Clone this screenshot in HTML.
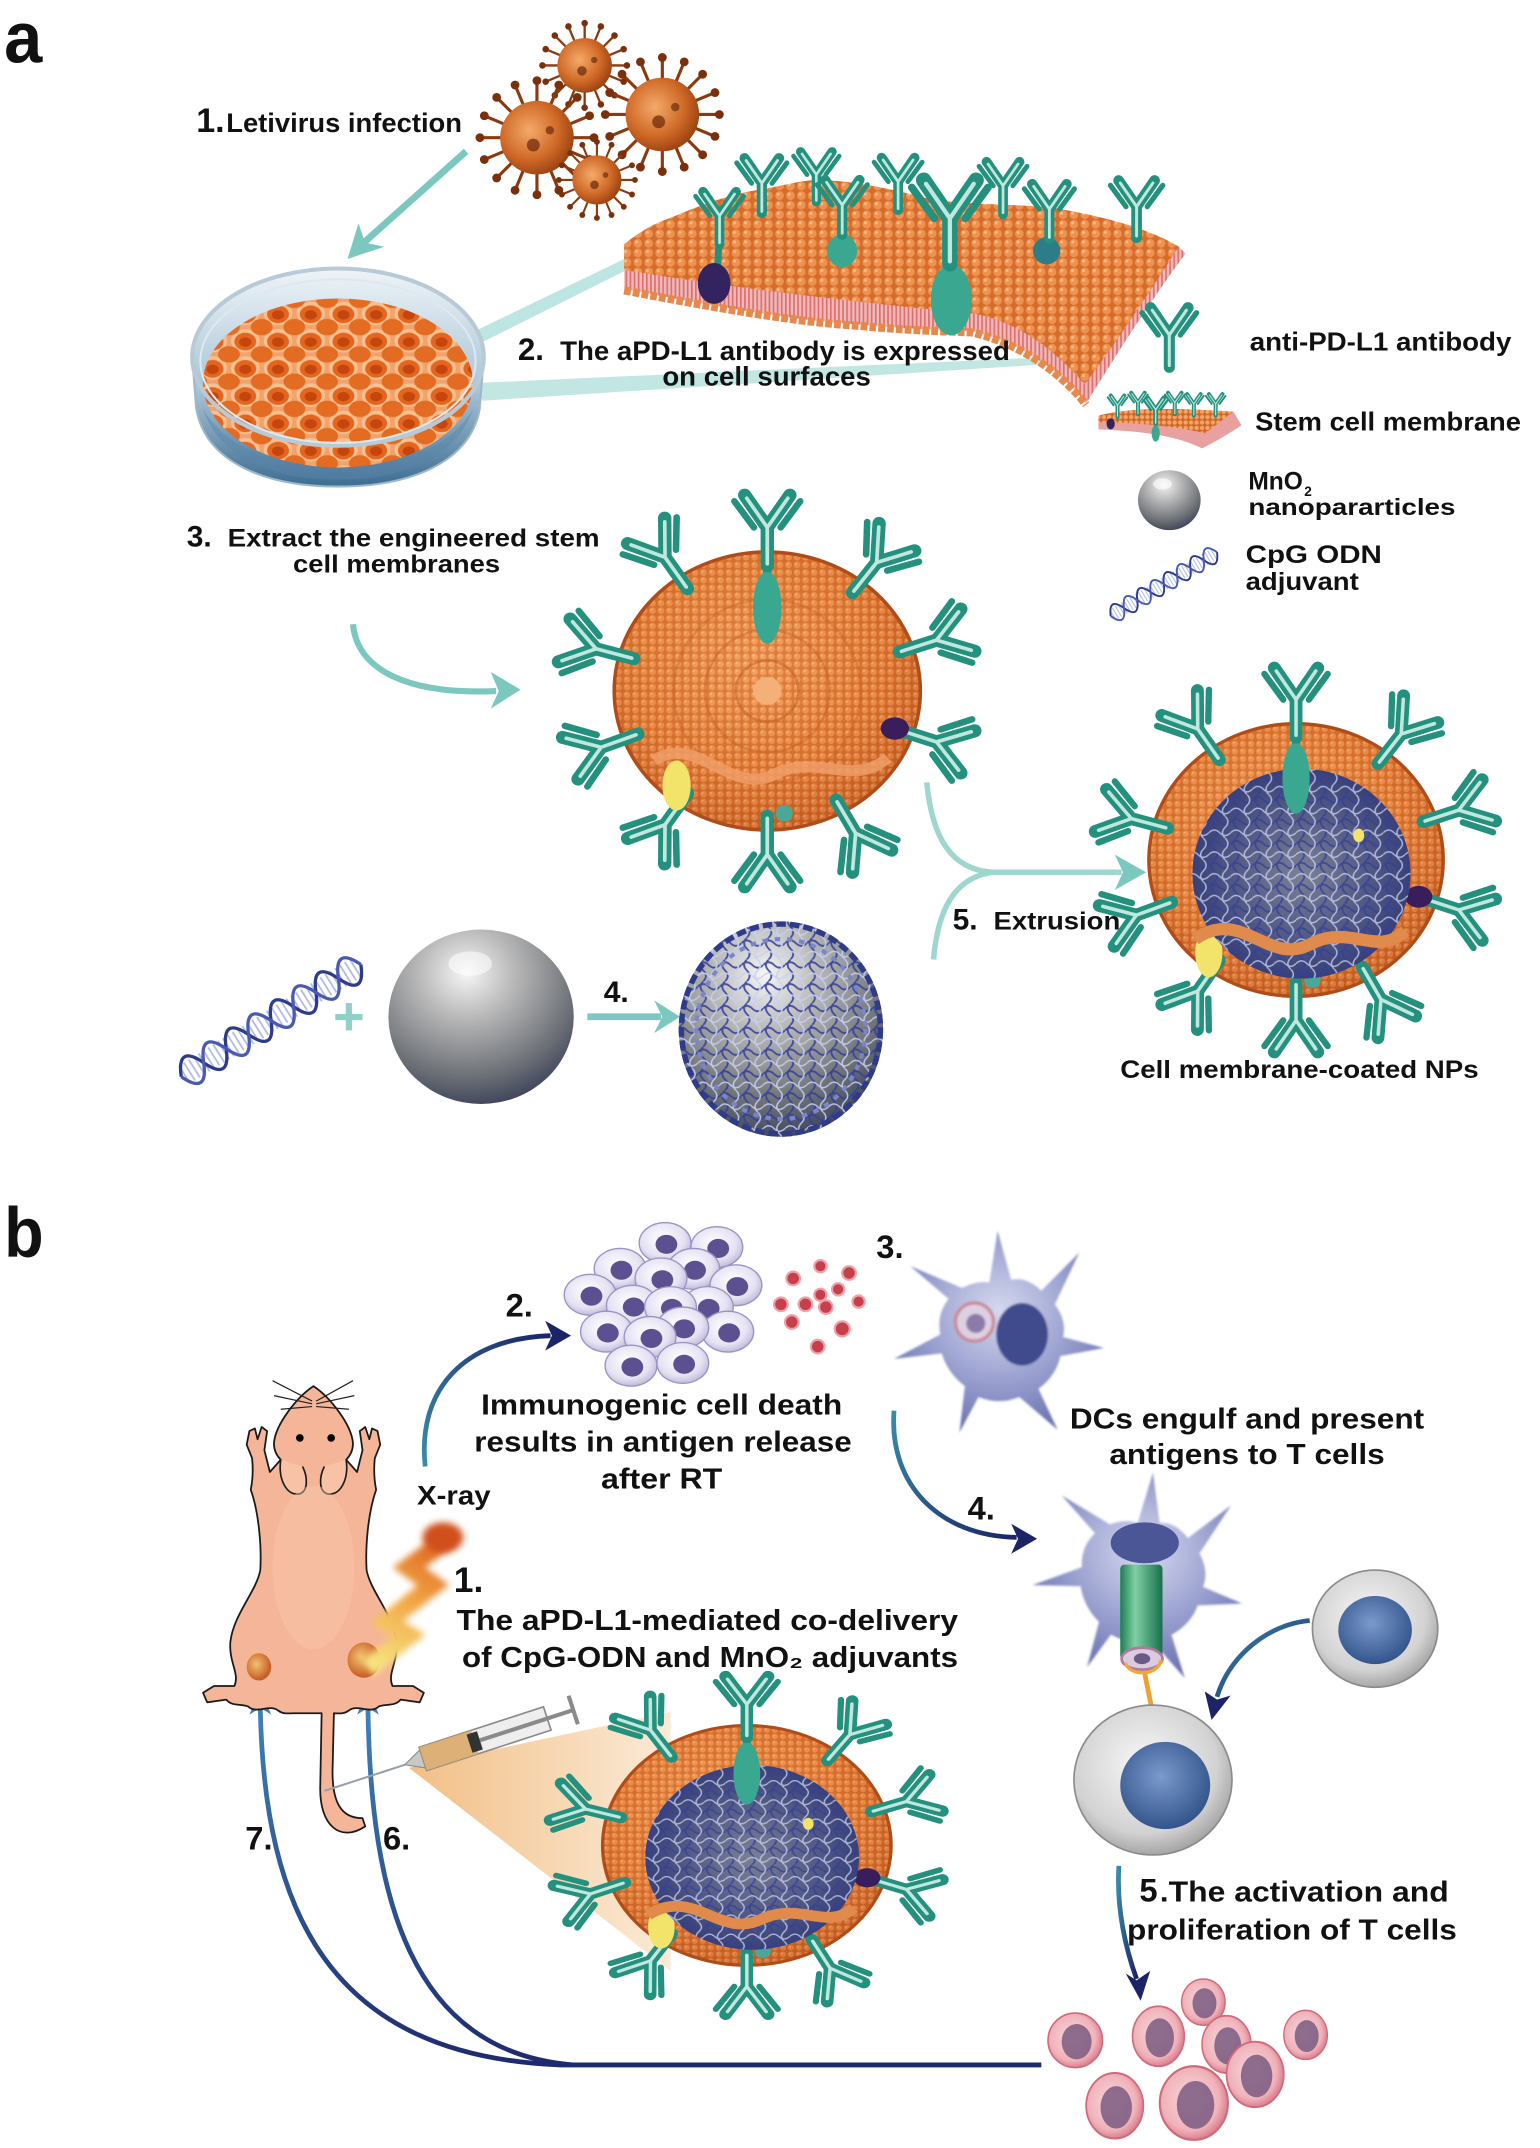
<!DOCTYPE html>
<html><head><meta charset="utf-8"><style>
html,body{margin:0;padding:0;background:#fff;}
svg{display:block;}
text{font-family:"Liberation Sans",Arial,sans-serif;font-weight:bold;fill:#111;}
</style></head><body>
<svg xmlns="http://www.w3.org/2000/svg" xmlns:xlink="http://www.w3.org/1999/xlink" width="1540" height="2148" viewBox="0 0 1130 1576" preserveAspectRatio="none">
<defs>
<radialGradient id="orG" cx=".45" cy=".4" r=".62"><stop offset="0" stop-color="#f4a866"/><stop offset=".65" stop-color="#e07c36"/><stop offset="1" stop-color="#b9531a"/></radialGradient>
<pattern id="beads" width="6" height="5.5" patternUnits="userSpaceOnUse"><rect width="6" height="5.5" fill="#c95f20"/><circle cx="3" cy="2.75" r="2.4" fill="#f39a5c"/><circle cx="2.3" cy="2" r=".8" fill="#fcd6ae"/></pattern>
<pattern id="beadsL" width="8" height="7" patternUnits="userSpaceOnUse"><rect width="8" height="7" fill="#cd6424"/><circle cx="4" cy="3.5" r="3.2" fill="#f29a5a"/><circle cx="3" cy="2.5" r="1.1" fill="#fcd6ae"/></pattern>
<pattern id="beadsS" width="4" height="4" patternUnits="userSpaceOnUse"><rect width="4" height="4" fill="#cf6828"/><circle cx="2" cy="2" r="1.6" fill="#f6a468"/></pattern>
<pattern id="tails" width="3" height="10" patternUnits="userSpaceOnUse"><rect width="3" height="10" fill="#f2b8b8"/><rect width="1.2" height="10" fill="#d87070"/></pattern>
<radialGradient id="grayG" cx=".42" cy=".25" r=".85"><stop offset="0" stop-color="#f6f6f6"/><stop offset=".3" stop-color="#b9b9b9"/><stop offset=".7" stop-color="#6c7076"/><stop offset="1" stop-color="#2a3150"/></radialGradient>
<radialGradient id="coreG" cx=".5" cy=".5" r=".6"><stop offset="0" stop-color="#7c8094"/><stop offset=".6" stop-color="#4c5380"/><stop offset="1" stop-color="#2b3370"/></radialGradient>
<pattern id="dnaPat" width="16" height="16" patternUnits="userSpaceOnUse"><path d="M0,4Q4,0 8,4T16,4M4,0Q0,4 4,8T4,16" fill="none" stroke="#34409a" stroke-width="1.3"/><path d="M0,12Q4,8 8,12T16,12M12,0Q16,4 12,8T12,16" fill="none" stroke="#c8d0f0" stroke-width="1.1"/></pattern>
<radialGradient id="virG" cx=".4" cy=".4" r=".65"><stop offset="0" stop-color="#f4aa6a"/><stop offset=".6" stop-color="#d06a28"/><stop offset="1" stop-color="#98400f"/></radialGradient>
<linearGradient id="dishG" x1="0" y1="0" x2="0" y2="1"><stop offset="0" stop-color="#eef4f8"/><stop offset=".55" stop-color="#a9c4d6"/><stop offset="1" stop-color="#3d6d92"/></linearGradient>
<pattern id="cellPat" width="24" height="20" patternUnits="userSpaceOnUse"><rect width="24" height="20" fill="#f2a26a"/><ellipse cx="12" cy="10" rx="10.5" ry="8.6" fill="#f8c090"/><ellipse cx="12" cy="10.6" rx="8" ry="6.5" fill="#e4661e"/><ellipse cx="12" cy="11" rx="4.5" ry="3.5" fill="#c4450e"/><ellipse cx="0" cy="0" rx="8" ry="6" fill="#e46c22"/><ellipse cx="24" cy="0" rx="8" ry="6" fill="#e46c22"/><ellipse cx="0" cy="20" rx="8" ry="6" fill="#e46c22"/><ellipse cx="24" cy="20" rx="8" ry="6" fill="#e46c22"/></pattern>
<radialGradient id="dcG" cx=".5" cy=".4" r=".6"><stop offset="0" stop-color="#d6d9ef"/><stop offset=".5" stop-color="#a2a8d4"/><stop offset="1" stop-color="#6c74b4"/></radialGradient>
<radialGradient id="tcG" cx=".45" cy=".4" r=".6"><stop offset="0" stop-color="#ffffff"/><stop offset=".7" stop-color="#e6e2f2"/><stop offset="1" stop-color="#c2bcdc"/></radialGradient>
<radialGradient id="pcG" cx=".45" cy=".45" r=".6"><stop offset="0" stop-color="#f8dadd"/><stop offset=".7" stop-color="#f0b2ba"/><stop offset="1" stop-color="#d46e80"/></radialGradient>
<radialGradient id="tG" cx=".45" cy=".4" r=".65"><stop offset="0" stop-color="#f8f8f8"/><stop offset=".7" stop-color="#d2d2d2"/><stop offset="1" stop-color="#979797"/></radialGradient>
<radialGradient id="nG" cx=".45" cy=".4" r=".6"><stop offset="0" stop-color="#7a9acc"/><stop offset="1" stop-color="#34558c"/></radialGradient>
<radialGradient id="tumG" cx=".4" cy=".4" r=".6"><stop offset="0" stop-color="#f2c070"/><stop offset="1" stop-color="#c65a22"/></radialGradient>
<linearGradient id="cylG" x1="0" y1="0" x2="1" y2="0"><stop offset="0" stop-color="#1d7e52"/><stop offset=".35" stop-color="#7fd0a4"/><stop offset="1" stop-color="#17704a"/></linearGradient>
<linearGradient id="beamG" x1="0" y1="0" x2="1" y2="0"><stop offset="0" stop-color="#f0b878"/><stop offset="1" stop-color="#fbe8d2"/></linearGradient>
<linearGradient id="boltG" gradientUnits="userSpaceOnUse" x1="330" y1="1124" x2="270" y2="1226"><stop offset="0" stop-color="#d8561a"/><stop offset=".45" stop-color="#f0a040"/><stop offset="1" stop-color="#f8ec86"/></linearGradient>
<linearGradient id="gUp" x1="0" y1="1" x2="1" y2="0"><stop offset="0" stop-color="#3a8cae"/><stop offset="1" stop-color="#1b2466"/></linearGradient>
<linearGradient id="gDn" x1="0" y1="0" x2="1" y2="1"><stop offset="0" stop-color="#3a8cae"/><stop offset="1" stop-color="#1b2466"/></linearGradient>
<linearGradient id="gBot" x1="0" y1="0" x2="0" y2="1"><stop offset="0" stop-color="#3f82b8"/><stop offset="1" stop-color="#1e2a6e"/></linearGradient>
<filter id="bl2" x="-50%" y="-50%" width="200%" height="200%"><feGaussianBlur stdDeviation="2.5"/></filter>
<filter id="bl1"><feGaussianBlur stdDeviation=".7"/></filter>

<g id="ab">
<path d="M0,2V-17M0,-17L-11,-33M0,-17L11,-33" fill="none" stroke="#24907e" stroke-width="6.5" stroke-linecap="round" stroke-linejoin="round"/>
<path d="M0,1V-17L-10,-31.5M0,-17L10,-31.5" fill="none" stroke="#bfe7de" stroke-width="1.8" stroke-linecap="round"/>
<path d="M-6.5,-17L-16,-30M6.5,-17L16,-30" fill="none" stroke="#24907e" stroke-width="3.2" stroke-linecap="round"/>
</g>

<g id="vir">
<path d="M0,0L31,0M0,0L28.6,11.9M0,0L21.9,21.9M0,0L11.9,28.6M0,0L0,31M0,0L-11.9,28.6M0,0L-21.9,21.9M0,0L-28.6,11.9M0,0L-31,0M0,0L-28.6,-11.9M0,0L-21.9,-21.9M0,0L-11.9,-28.6M0,0L0,-31M0,0L11.9,-28.6M0,0L21.9,-21.9M0,0L28.6,-11.9" stroke="#8a3a10" stroke-width="1.7"/>
<g fill="#7a300c"><circle cx="31" cy="0" r="2.4"/><circle cx="28.6" cy="11.9" r="2.4"/><circle cx="21.9" cy="21.9" r="2.4"/><circle cx="11.9" cy="28.6" r="2.4"/><circle cx="0" cy="31" r="2.4"/><circle cx="-11.9" cy="28.6" r="2.4"/><circle cx="-21.9" cy="21.9" r="2.4"/><circle cx="-28.6" cy="11.9" r="2.4"/><circle cx="-31" cy="0" r="2.4"/><circle cx="-28.6" cy="-11.9" r="2.4"/><circle cx="-21.9" cy="-21.9" r="2.4"/><circle cx="-11.9" cy="-28.6" r="2.4"/><circle cx="0" cy="-31" r="2.4"/><circle cx="11.9" cy="-28.6" r="2.4"/><circle cx="21.9" cy="-21.9" r="2.4"/><circle cx="28.6" cy="-11.9" r="2.4"/></g>
<circle r="20" fill="url(#virG)"/>
<circle cx="-2" cy="4" r="3.5" fill="#6a2808" opacity=".7"/>
<circle cx="7" cy="-4" r="2.3" fill="#5a2006" opacity=".6"/>
</g>

<g id="helix">
<line x1="2" y1="0" x2="138" y2="0" stroke="#b4bce4" stroke-width="14" stroke-dasharray="1.2 2.6"/>
<path d="M0,0Q8.75,-20 17.5,0T35,0T52.5,0T70,0T87.5,0T105,0T122.5,0T140,0" stroke="#2e3a8a" stroke-width="2.2" fill="none"/>
<path d="M0,0Q8.75,20 17.5,0T35,0T52.5,0T70,0T87.5,0T105,0T122.5,0T140,0" stroke="#4a5ab2" stroke-width="2.2" fill="none"/>
</g>

<g id="shell">
<ellipse rx="108" ry="100" fill="url(#orG)"/>
<ellipse rx="108" ry="100" fill="url(#beads)" opacity=".5"/>
<ellipse rx="108" ry="100" fill="none" stroke="#b04c18" stroke-width="2.5"/>
<use xlink:href="#ab" transform="translate(-58,-76) rotate(-35) scale(1.45)"/>
<use xlink:href="#ab" transform="translate(62,-73) rotate(38) scale(1.45)"/>
<use xlink:href="#ab" transform="translate(96,-29) rotate(72) scale(1.45)"/>
<use xlink:href="#ab" transform="translate(96,29) rotate(108) scale(1.45)"/>
<use xlink:href="#ab" transform="translate(50,81) rotate(150) scale(1.45)"/>
<use xlink:href="#ab" transform="translate(0,93) rotate(180) scale(1.45)"/>
<use xlink:href="#ab" transform="translate(-58,76) rotate(215) scale(1.45)"/>
<use xlink:href="#ab" transform="translate(-94,32) rotate(250) scale(1.45)"/>
<use xlink:href="#ab" transform="translate(-97,-24) rotate(285) scale(1.45)"/>
<ellipse cx="90" cy="27" rx="10" ry="8" fill="#3a1e5c"/>
<ellipse cx="-64" cy="68" rx="10" ry="18" fill="#f2e46a"/>
<ellipse cx="12" cy="88" rx="6" ry="6" fill="#4aa898"/>
</g>
<g id="topRec">
<line x1="0" y1="-36" x2="0" y2="-93" stroke="#24907e" stroke-width="6"/>
<ellipse cx="0" cy="-60" rx="10" ry="26" fill="#3aa890"/>
<use xlink:href="#ab" transform="translate(0,-93) scale(1.45)"/>
</g>
<g id="core">
<ellipse cx="4" cy="10" rx="80" ry="77" fill="url(#coreG)"/>
<ellipse cx="4" cy="10" rx="80" ry="77" fill="url(#dnaPat)" opacity=".8"/>
<path d="M-74,58C-40,34 -20,78 10,62C40,46 60,72 80,52" stroke="#e08a4c" stroke-width="9" fill="none"/>
</g>

<path id="dcP" d="M-8,-34L-2,-72L8,-36C16,-38 24,-34 30,-28L58,-56L40,-18C46,-10 48,-2 46,6L76,14L44,20C42,30 36,38 28,44L42,74L14,50C4,54 -6,54 -16,50L-30,76L-26,42C-34,36 -40,28 -43,18L-78,22L-44,4C-46,-6 -44,-14 -38,-22L-66,-46L-28,-30C-22,-33 -16,-35 -8,-34Z"/>

<g id="tc"><ellipse rx="19" ry="15" fill="url(#tcG)" stroke="#9a94c4" stroke-width="1"/><ellipse cx="1" cy="1" rx="8" ry="7" fill="#5c5090"/></g>
<g id="pc"><ellipse rx="20" ry="20" fill="url(#pcG)" stroke="#d06a7a" stroke-width="1.2"/><ellipse cx="1" cy="1" rx="11" ry="13" fill="#7a5a80" opacity=".85"/></g>
</defs>

<rect width="1130" height="1576" fill="#fff"/>

<!-- ============ PANEL A ============ -->
<text x="3" y="46" font-size="53" textLength="28" lengthAdjust="spacingAndGlyphs">a</text>

<!-- viruses -->
<use xlink:href="#vir" transform="translate(429,48) scale(1.0)"/>
<use xlink:href="#vir" transform="translate(486,84) scale(1.35)"/>
<use xlink:href="#vir" transform="translate(394,101) scale(1.35)"/>
<use xlink:href="#vir" transform="translate(438,132) scale(.9)"/>

<!-- virus arrow -->
<line x1="342" y1="111" x2="267" y2="178" stroke="#7cc8c0" stroke-width="5"/>
<polygon points="255,190 263,164 268,178 282,181" fill="#7cc8c0"/>

<!-- beams -->
<polygon points="340,247 458,190 458,199 344,256" fill="#b6e2de" opacity=".9"/>
<polygon points="350,281 354,294 772,267 770,262" fill="#c2e7e3"/>

<!-- petri dish -->
<path d="M141,262A107,65 0 0 1 355,262L352,300C345,340 300,357 248,357C196,357 151,340 144,300Z" fill="url(#dishG)" stroke="#9fb8c8" stroke-width="1.5"/>
<ellipse cx="248" cy="281" rx="99" ry="62" fill="url(#cellPat)"/>
<path d="M149,300C160,335 200,352 248,352C296,352 336,335 347,300C330,330 290,343 248,343C206,343 166,330 149,300Z" fill="#5a86a8" opacity=".45"/>
<ellipse cx="248" cy="262" rx="107" ry="65" fill="none" stroke="#b8cad6" stroke-width="3"/>
<ellipse cx="248" cy="265" rx="101" ry="60" fill="none" stroke="#dde8ef" stroke-width="1.5"/>

<!-- membrane sheet -->
<path d="M458,179L458,212C530,226 590,236 630,238C670,242 700,242 714,243C750,252 778,272 797,296C818,262 846,218 870,186L865,181Z" fill="url(#tails)"/>
<path d="M458,213C530,227 590,237 630,239C670,243 700,243 714,244C750,253 778,273 797,297" fill="none" stroke="#e8894c" stroke-width="6" stroke-dasharray="5 1.5"/>
<path d="M458,179C470,170 480,164 489,161C515,150 540,141 559,139C575,136 590,132 601,132C630,133 660,140 686,147C715,150 745,150 770,152C805,158 840,166 865,181C845,212 820,250 796,282C775,258 748,236 714,230C650,224 540,212 458,198Z" fill="url(#beadsL)"/>
<path d="M458,179C470,170 480,164 489,161C515,150 540,141 559,139C575,136 590,132 601,132C630,133 660,140 686,147C715,150 745,150 770,152C805,158 840,166 865,181C845,212 820,250 796,282C775,258 748,236 714,230C650,224 540,212 458,198Z" fill="#e9803c" opacity=".3"/>
<!-- antibodies on sheet -->
<line x1="528" y1="170" x2="526" y2="205" stroke="#24907e" stroke-width="5"/>
<ellipse cx="524" cy="208" rx="12" ry="15" fill="#33235e"/>
<use xlink:href="#ab" transform="translate(528,177) scale(1.1)"/>
<use xlink:href="#ab" transform="translate(559,154) scale(1.15)"/>
<use xlink:href="#ab" transform="translate(599,146) scale(1.05)"/>
<line x1="618" y1="165" x2="618" y2="180" stroke="#24907e" stroke-width="5"/>
<ellipse cx="618" cy="184" rx="11" ry="12" fill="#3aa890"/>
<use xlink:href="#ab" transform="translate(618,170) scale(1.15)"/>
<use xlink:href="#ab" transform="translate(659,152) scale(1.1)"/>
<line x1="697" y1="185" x2="697" y2="205" stroke="#24907e" stroke-width="8"/>
<ellipse cx="698" cy="220" rx="15" ry="26" fill="#3aa890"/>
<use xlink:href="#ab" transform="translate(697,190) scale(1.75)"/>
<use xlink:href="#ab" transform="translate(736,155) scale(1.1)"/>
<line x1="770" y1="170" x2="770" y2="180" stroke="#24907e" stroke-width="5"/>
<ellipse cx="768" cy="184" rx="10" ry="10" fill="#2b7e88"/>
<use xlink:href="#ab" transform="translate(770,173) scale(1.15)"/>
<use xlink:href="#ab" transform="translate(834,172) scale(1.2)"/>

<text x="380" y="264" font-size="23">2.</text>
<text x="411" y="264" font-size="19.5" textLength="330" lengthAdjust="spacingAndGlyphs">The aPD-L1 antibody is expressed</text>
<text x="486" y="283" font-size="19.5" textLength="153" lengthAdjust="spacingAndGlyphs">on cell surfaces</text>

<text x="144" y="97" font-size="25">1.</text>
<text x="166" y="97" font-size="19.5" textLength="173" lengthAdjust="spacingAndGlyphs">Letivirus infection</text>

<!-- legend -->
<use xlink:href="#ab" transform="translate(858,267) scale(1.25)"/>
<text x="917" y="257" font-size="19" textLength="192" lengthAdjust="spacingAndGlyphs">anti-PD-L1 antibody</text>
<path d="M806,305C830,298 870,300 905,302L911,312C902,318 892,324 882,329C860,318 830,316 806,315Z" fill="#e8a0a0"/>
<path d="M806,305C830,298 870,300 905,302C900,306 892,312 884,318C860,312 830,310 806,310Z" fill="url(#beadsS)"/>
<use xlink:href="#ab" transform="translate(820,305) scale(.45)"/>
<use xlink:href="#ab" transform="translate(835,303) scale(.45)"/>
<use xlink:href="#ab" transform="translate(848,310) scale(.55)"/>
<use xlink:href="#ab" transform="translate(862,303) scale(.45)"/>
<use xlink:href="#ab" transform="translate(876,304) scale(.45)"/>
<use xlink:href="#ab" transform="translate(892,304) scale(.45)"/>
<ellipse cx="848" cy="318" rx="3" ry="6" fill="#3aa890"/>
<ellipse cx="815" cy="311" rx="3" ry="4" fill="#33235e"/>
<text x="921" y="316" font-size="19" textLength="195" lengthAdjust="spacingAndGlyphs">Stem cell membrane</text>
<ellipse cx="858" cy="367" rx="23" ry="22" fill="url(#grayG)"/>
<ellipse cx="853" cy="355" rx="7" ry="4" fill="#fff" opacity=".6"/>
<text x="916" y="359" font-size="18" textLength="40" lengthAdjust="spacingAndGlyphs">MnO</text>
<text x="957" y="364" font-size="10">2</text>
<text x="916" y="378" font-size="17" textLength="152" lengthAdjust="spacingAndGlyphs">nanopararticles</text>
<use xlink:href="#helix" transform="translate(815,452) rotate(-31) scale(.65)"/>
<text x="914" y="413" font-size="18" textLength="100" lengthAdjust="spacingAndGlyphs">CpG  ODN</text>
<text x="914" y="433" font-size="18" textLength="83" lengthAdjust="spacingAndGlyphs">adjuvant</text>

<!-- step 3 -->
<text x="137" y="401" font-size="22">3.</text>
<text x="167" y="401" font-size="18" textLength="273" lengthAdjust="spacingAndGlyphs">Extract the engineered stem</text>
<text x="215" y="420" font-size="18" textLength="152" lengthAdjust="spacingAndGlyphs">cell membranes</text>
<path d="M259,458C262,492 300,510 364,507" fill="none" stroke="#7cc8c0" stroke-width="4.5"/>
<polygon points="382,506 360,493 366,507 360,520" fill="#7cc8c0"/>

<!-- vesicle -->
<g transform="translate(563,507) scale(1.04,1.02)">
<use xlink:href="#shell"/>
<circle r="22" fill="none" stroke="#c45e24" stroke-width="2" opacity=".5"/>
<circle r="44" fill="none" stroke="#c45e24" stroke-width="2" opacity=".4"/>
<circle r="66" fill="none" stroke="#c45e24" stroke-width="2" opacity=".35"/>
<ellipse cx="0" cy="0" rx="10" ry="10" fill="#f3b079"/>
<path d="M-80,50C-50,30 -25,76 5,60C35,44 60,70 85,48" stroke="#f0a06a" stroke-width="8" fill="none" opacity=".8"/>
<use xlink:href="#topRec"/>
</g>

<!-- extrusion connector -->
<path d="M680,574C684,615 698,638 728,640L823,640" fill="none" stroke="#9fd6d0" stroke-width="4"/>
<path d="M685,704C688,668 700,644 728,640" fill="none" stroke="#9fd6d0" stroke-width="4"/>
<polygon points="841,640 818,627 824,640 818,653" fill="#7cc8c0"/>
<text x="699" y="682" font-size="22">5.</text>
<text x="729" y="682" font-size="18" textLength="93" lengthAdjust="spacingAndGlyphs">Extrusion</text>

<!-- coated NP -->
<g transform="translate(951,631)">
<use xlink:href="#shell"/>
<use xlink:href="#core"/>
<use xlink:href="#topRec"/>
<ellipse cx="46" cy="-18" rx="4" ry="5" fill="#f2e46a"/>
</g>
<text x="822" y="791" font-size="18" textLength="263" lengthAdjust="spacingAndGlyphs">Cell membrane-coated NPs</text>

<!-- step 4 -->
<use xlink:href="#helix" transform="translate(133,790) rotate(-32) scale(1.11)"/>
<rect x="246" y="744" width="20" height="4.5" fill="#8fd0c8"/>
<rect x="253.75" y="736" width="4.5" height="20" fill="#8fd0c8"/>
<ellipse cx="353" cy="746" rx="68" ry="64" fill="url(#grayG)"/>
<ellipse cx="345" cy="707" rx="16" ry="9" fill="#fff" opacity=".55"/>
<text x="443" y="735" font-size="22">4.</text>
<line x1="431" y1="746" x2="485" y2="746" stroke="#7cc8c0" stroke-width="5"/>
<polygon points="499,746 480,734 486,746 480,758" fill="#7cc8c0"/>
<ellipse cx="573" cy="755" rx="75" ry="79" fill="url(#grayG)"/>
<ellipse cx="573" cy="755" rx="75" ry="79" fill="url(#dnaPat)" opacity=".9"/>
<ellipse cx="573" cy="755" rx="73" ry="77" fill="none" stroke="#2e3a8a" stroke-width="4" stroke-dasharray="7 3"/>
<ellipse cx="573" cy="755" rx="62" ry="66" fill="none" stroke="#7a86c8" stroke-width="3" stroke-dasharray="4 5"/>

<!-- ============ PANEL B ============ -->
<text x="3" y="922" font-size="52" textLength="29" lengthAdjust="spacingAndGlyphs">b</text>

<!-- arrow 2 -->
<path d="M312,1076C306,1020 340,982 404,980" fill="none" stroke="url(#gUp)" stroke-width="3.5"/>
<polygon points="419,980 400,969 405,980 400,991" fill="#1b2466"/>
<text x="371" y="966" font-size="24">2.</text>

<!-- tumor cluster -->
<use xlink:href="#tc" transform="translate(488,912)"/>
<use xlink:href="#tc" transform="translate(526,915)"/>
<use xlink:href="#tc" transform="translate(455,931)"/>
<use xlink:href="#tc" transform="translate(509,931)"/>
<use xlink:href="#tc" transform="translate(540,943)"/>
<use xlink:href="#tc" transform="translate(485,938)"/>
<use xlink:href="#tc" transform="translate(433,950)"/>
<use xlink:href="#tc" transform="translate(464,958)"/>
<use xlink:href="#tc" transform="translate(519,959)"/>
<use xlink:href="#tc" transform="translate(492,959)"/>
<use xlink:href="#tc" transform="translate(445,977)"/>
<use xlink:href="#tc" transform="translate(534,977)"/>
<use xlink:href="#tc" transform="translate(501,974)"/>
<use xlink:href="#tc" transform="translate(477,981)"/>
<use xlink:href="#tc" transform="translate(463,1002)"/>
<use xlink:href="#tc" transform="translate(501,1000)"/>
<g fill="#c4404a" stroke="#f0a0a8" stroke-width="1.6">
<circle cx="602" cy="929" r="4.5"/><circle cx="623" cy="934" r="5"/><circle cx="582" cy="938" r="5"/><circle cx="615" cy="946" r="4.5"/><circle cx="602" cy="950" r="4.5"/><circle cx="573" cy="957" r="5"/><circle cx="591" cy="957" r="5"/><circle cx="606" cy="959" r="5"/><circle cx="630" cy="955" r="4.5"/><circle cx="581" cy="970" r="5"/><circle cx="618" cy="975" r="5.5"/><circle cx="600" cy="988" r="5"/>
</g>

<!-- DC 1 -->
<g transform="translate(734,975)" filter="url(#bl1)">
<use xlink:href="#dcP" fill="url(#dcG)"/>
<ellipse cx="16" cy="4" rx="19" ry="23" fill="#3f4c8e"/>
<circle cx="-19" cy="-5" r="14" fill="#ddd0e2" stroke="#c88a96" stroke-width="2.5"/>
<circle cx="-18" cy="-4" r="7" fill="#8c7aa8"/>
</g>
<text x="643" y="923" font-size="24">3.</text>

<text x="353" y="1038" font-size="21" textLength="265" lengthAdjust="spacingAndGlyphs">Immunogenic cell death</text>
<text x="348" y="1065" font-size="21" textLength="277" lengthAdjust="spacingAndGlyphs">results in antigen release</text>
<text x="441" y="1092" font-size="21" textLength="89" lengthAdjust="spacingAndGlyphs">after RT</text>
<text x="785" y="1048" font-size="21" textLength="260" lengthAdjust="spacingAndGlyphs">DCs engulf and present</text>
<text x="814" y="1074" font-size="21" textLength="202" lengthAdjust="spacingAndGlyphs">antigens to T cells</text>

<!-- arrow 4 -->
<path d="M656,1035C652,1090 690,1127 746,1128" fill="none" stroke="url(#gDn)" stroke-width="3.5"/>
<polygon points="761,1129 742,1118 747,1129 742,1140" fill="#1b2466"/>
<text x="710" y="1115" font-size="24">4.</text>

<!-- DC 2 -->
<g transform="translate(838,1152) rotate(8)" filter="url(#bl1)">
<use xlink:href="#dcP" fill="url(#dcG)"/>
</g>
<ellipse cx="840" cy="1132" rx="25" ry="15" fill="#4a5696"/>
<rect x="822" y="1148" width="31" height="70" rx="3" fill="url(#cylG)"/>
<ellipse cx="838" cy="1217" rx="15" ry="8" fill="#dccbe0" stroke="#b07a9a" stroke-width="2"/>
<ellipse cx="838" cy="1217" rx="6" ry="4" fill="#6a5a88"/>
<path d="M826,1220C828,1230 850,1230 852,1218" fill="none" stroke="#f0a838" stroke-width="2.5"/>
<line x1="840" y1="1228" x2="846" y2="1258" stroke="#f0a030" stroke-width="3.5"/>

<!-- T cells -->
<ellipse cx="1009" cy="1195" rx="46" ry="43" fill="url(#tG)" stroke="#8a8a8a" stroke-width="1.2"/>
<ellipse cx="1009" cy="1196" rx="27" ry="25" fill="url(#nG)"/>
<path d="M961,1189C930,1192 902,1215 893,1245" fill="none" stroke="url(#gDn)" stroke-width="3.5"/>
<polygon points="889,1262 884,1241 893,1247 903,1244" fill="#1b2466"/>
<ellipse cx="846" cy="1306" rx="58" ry="55" fill="url(#tG)" stroke="#8a8a8a" stroke-width="1.2"/>
<ellipse cx="855" cy="1310" rx="33" ry="32" fill="url(#nG)"/>

<!-- arrow 5 -->
<path d="M821,1369C819,1400 826,1430 834,1452" fill="none" stroke="url(#gDn)" stroke-width="3.5"/>
<polygon points="837,1468 826,1448 834,1453 844,1446" fill="#1b2466"/>
<text x="836" y="1395" font-size="24">5</text>
<text x="851" y="1395" font-size="21" textLength="212" lengthAdjust="spacingAndGlyphs">.The activation and</text>
<text x="827" y="1423" font-size="21" textLength="242" lengthAdjust="spacingAndGlyphs">proliferation of T cells</text>

<!-- proliferating cells -->
<use xlink:href="#pc" transform="translate(883,1469) scale(.8,.85)"/>
<use xlink:href="#pc" transform="translate(958,1493) scale(.8,.9)"/>
<use xlink:href="#pc" transform="translate(789,1497) scale(1,1)"/>
<use xlink:href="#pc" transform="translate(850,1494) scale(.95,1.1)"/>
<use xlink:href="#pc" transform="translate(900,1500) scale(.9,1.05)"/>
<use xlink:href="#pc" transform="translate(921,1522) scale(1.05,1.2)"/>
<use xlink:href="#pc" transform="translate(818,1545) scale(1.05,1.2)"/>
<use xlink:href="#pc" transform="translate(876,1543) scale(1.25,1.35)"/>

<!-- bottom return arrows -->
<path d="M191,1254C194,1400 240,1508 410,1515L764,1515" fill="none" stroke="url(#gBot)" stroke-width="3.5"/>
<path d="M270,1254C272,1390 300,1505 420,1515" fill="none" stroke="url(#gBot)" stroke-width="3.5"/>
<line x1="410" y1="1515" x2="764" y2="1515" stroke="#1e2a6e" stroke-width="3.5"/>
<polygon points="191,1239 183,1258 191,1253 199,1258" fill="#3f82b8"/>
<polygon points="270,1239 262,1258 270,1253 278,1258" fill="#3f82b8"/>
<text x="180" y="1357" font-size="24">7.</text>
<text x="281" y="1357" font-size="24">6.</text>

<!-- mouse -->
<path d="M230,1017C242,1025 258,1045 259,1059C259,1064 257,1068 254,1071L262,1080L266,1064L264,1050L268,1047L271,1056L273,1048L277,1050L279,1060L275,1070C274,1080 275,1088 276,1093C270,1110 268,1135 269,1152C272,1168 289,1185 291,1205C292,1220 284,1228 288,1237L303,1237L311,1242L308,1249L294,1247C290,1252 284,1250 278,1252C272,1258 262,1250 256,1255C252,1258 248,1257 245,1257L244,1300C244,1322 250,1334 266,1334L268,1340C250,1352 234,1340 235,1310L236,1257L215,1257C212,1257 208,1258 204,1255C198,1250 188,1258 182,1252C176,1250 170,1252 166,1247L152,1249L149,1242L157,1237L172,1237C176,1228 168,1220 169,1205C171,1185 188,1168 191,1152C192,1135 190,1110 184,1093C185,1088 186,1080 185,1070L181,1060L183,1050L187,1048L189,1056L192,1047L196,1050L194,1064L198,1080L206,1071C203,1068 201,1064 201,1059C202,1045 218,1025 230,1017Z" fill="#f5b598" stroke="#1a1a1a" stroke-width="1.3" stroke-linejoin="round"/>
<path d="M206,1071C204,1085 210,1098 220,1096C226,1094 226,1084 222,1076M254,1071C256,1085 250,1098 240,1096C234,1094 234,1084 238,1076" fill="#f8c2a6" stroke="#1a1a1a" stroke-width="1.2"/>
<ellipse cx="230" cy="1150" rx="30" ry="60" fill="#f8c8ae" opacity=".45"/>
<circle cx="220" cy="1055" r="2.8" fill="#000"/>
<circle cx="243" cy="1055" r="2.8" fill="#000"/>
<path d="M229,1028L200,1013M229,1030L201,1024M229,1032L206,1034M232,1028L259,1013M232,1030L260,1024M232,1032L256,1034" stroke="#222" stroke-width=".9"/>
<ellipse cx="190" cy="1223" rx="9" ry="10" fill="url(#tumG)"/>
<ellipse cx="267" cy="1218" rx="12" ry="13" fill="url(#tumG)"/>

<!-- X-ray bolt -->
<path d="M330,1128L300,1150L318,1163L284,1190L300,1200L270,1224" stroke="url(#boltG)" stroke-width="14" fill="none" filter="url(#bl2)"/>
<ellipse cx="325" cy="1128" rx="15" ry="11" fill="#d0501a" filter="url(#bl2)"/>
<text x="306" y="1104" font-size="20" textLength="54" lengthAdjust="spacingAndGlyphs">X-ray</text>
<text x="333" y="1168" font-size="26">1.</text>
<text x="335" y="1196" font-size="21" textLength="368" lengthAdjust="spacingAndGlyphs">The aPD-L1-mediated co-delivery</text>
<text x="339" y="1223" font-size="21" textLength="364" lengthAdjust="spacingAndGlyphs">of CpG-ODN and MnO₂ adjuvants</text>

<!-- beam + syringe -->
<polygon points="300,1297 492,1256 492,1446" fill="url(#beamG)" opacity=".9"/>
<g transform="translate(238,1314) rotate(-18)">
<line x1="0" y1="0" x2="62" y2="0" stroke="#9aa0a8" stroke-width="1.5"/>
<path d="M62,0L76,-7L76,7Z" fill="#c8c8c8" stroke="#888" stroke-width=".8"/>
<rect x="76" y="-9" width="96" height="18" fill="#eeeeee" stroke="#8a8a8a" stroke-width="1.2"/>
<rect x="76" y="-9" width="40" height="18" fill="#d9a868" opacity=".9"/>
<rect x="112" y="-7" width="8" height="14" fill="#333"/>
<line x1="120" y1="0" x2="192" y2="0" stroke="#8a8a8a" stroke-width="3"/>
<line x1="192" y1="-11" x2="192" y2="11" stroke="#8a8a8a" stroke-width="3"/>
</g>

<!-- NP panel b -->
<g transform="translate(548,1354) scale(.98,.88)">
<use xlink:href="#shell"/>
<use xlink:href="#core"/>
<use xlink:href="#topRec"/>
<ellipse cx="46" cy="-18" rx="4" ry="5" fill="#f2e46a"/>
</g>
</svg>
</body></html>
